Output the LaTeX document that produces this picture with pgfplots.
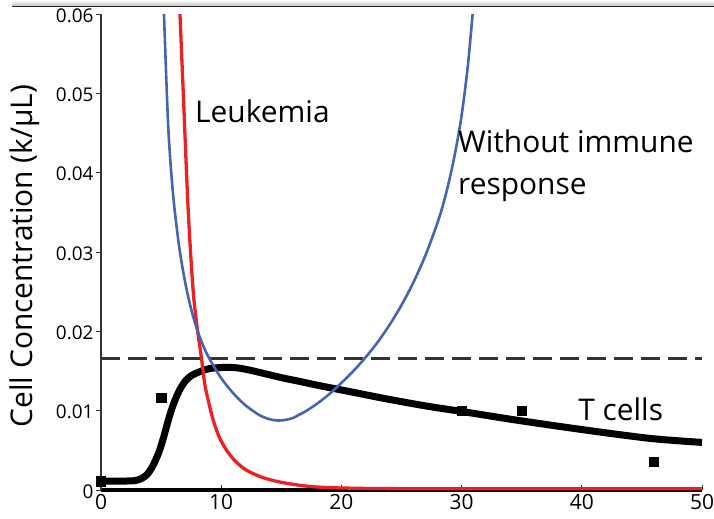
\documentclass[border=0pt]{standalone}
\usepackage{fontspec}
\setmainfont{Open Sans}
\usepackage{pgfplots}
\pgfplotsset{compat=1.18}
\definecolor{lred}{RGB}{237,33,36}
\definecolor{lblue}{RGB}{70,100,175}
\begin{document}
\begin{tikzpicture}
\shade[top color=white, bottom color=black!25] (-89bp,484bp) rectangle (613bp,490bp);
\draw[black!85, line width=1bp] (-89bp,483bp) -- (613bp,483bp);
\begin{axis}[
  scale only axis, width=601bp, height=476bp,
  at={(0,0)}, anchor=south west,
  xmin=0, xmax=50, ymin=0, ymax=0.06,
  axis x line*=bottom, axis y line*=left,
  clip=false,
  scaled y ticks=false, scaled x ticks=false,
  xtick={0,10,20,30,40,50},
  xticklabels={0,10,20,30,40,50},
  ytick={0,0.01,0.02,0.03,0.04,0.05,0.06},
  yticklabels={0,0.01,0.02,0.03,0.04,0.05,0.06},
  x axis line style={line width=3bp, black},
  y axis line style={line width=1.2bp, black!80},
  major tick length=4.5bp,
  tick style={black!80, line width=1bp},
  ytick style={xshift=-4.5bp},
  yticklabel style={font=\fontsize{19}{19}\selectfont, xshift=-4bp, yshift=-1.5bp},
  xticklabel style={font=\fontsize{21}{21}\selectfont, yshift=-1bp},
]
\addplot[black!80, line width=2.4bp, dash pattern=on 19bp off 8bp] coordinates {(0,0.0166) (50,0.0166)};
\addplot[black, line width=7bp, smooth] coordinates {
(0,0.00113) (1,0.00113) (2,0.00113) (2.8,0.00118) (3.3,0.0014) (3.8,0.0019) (4.3,0.0030) (4.8,0.0047) (5.2,0.0066) (5.6,0.0088) (6.0,0.0107) (6.5,0.0125) (7.0,0.0137) (7.5,0.0144) (8.2,0.0149) (9.0,0.0153) (10.2,0.01545) (11.3,0.0154) (12.4,0.0151) (13.8,0.0146) (15.2,0.0141) (16.5,0.0137) (17.9,0.01324) (20.7,0.0124) (23.5,0.01156) (27,0.0106) (30,0.0099) (34.6,0.0088) (40.1,0.0076) (45.7,0.0065) (50,0.0060)
};
\addplot[lred, line width=3.3bp, smooth] coordinates {
(6.57,0.060) (6.9,0.048) (7.2,0.037) (7.45,0.030) (7.7,0.0245) (8.0,0.0205) (8.35,0.0167) (8.65,0.0132) (9.0,0.0108) (9.3,0.0090) (9.8,0.0068) (10.45,0.0050) (11.2,0.0036) (12.1,0.0025) (13.4,0.0016) (14.9,0.0010) (17,0.0005) (19,0.0003) (22,0.0002) (26,0.00016) (32,0.00015) (40,0.00015) (50,0.00015)
};
\addplot[lblue, line width=2.6bp, smooth] coordinates {
(5.24,0.0600) (5.6,0.0456) (6.0,0.0372) (6.5,0.0307) (7.0,0.0262) (7.5,0.0228) (8.0,0.0202) (8.5,0.0182) (9.0,0.0166) (10.0,0.0141) (11.0,0.0122) (12.0,0.0107) (13.0,0.0096) (13.5,0.0092) (14.0,0.00893) (14.5,0.00878) (15.0,0.00877) (15.5,0.00888) (16.0,0.0091) (16.5,0.0095) (17.0,0.0099) (18.0,0.0109) (19.0,0.0121) (20.0,0.0135) (21.0,0.0150) (22.0,0.0167) (23.0,0.0186) (24.0,0.0208) (25.0,0.0233) (26.0,0.0262) (27.0,0.0296) (28.0,0.0337) (28.5,0.0362) (29.0,0.0392) (29.5,0.0428) (30.0,0.0472) (30.5,0.0532) (30.92,0.0600)
};
\addplot[only marks, mark=square*, mark size=4.7bp, black] coordinates {
(0,0.00113) (5,0.0116) (30,0.0100) (35,0.0100) (46,0.0036)
};
\node[anchor=base west, inner sep=0, font=\fontsize{30}{30}\selectfont] at (axis cs:7.82,0.0463) {Leukemia};
\node[anchor=base west, inner sep=0, font=\fontsize{30}{30}\selectfont] at (axis cs:29.7,0.0425) {Without immune};
\node[anchor=base west, inner sep=0, font=\fontsize{30}{30}\selectfont] at (axis cs:29.7,0.0372) {response};
\node[anchor=base west, inner sep=0, font=\fontsize{30}{30}\selectfont] at (axis cs:39.7,0.00874) {T cells};
\node[rotate=90, anchor=base, inner sep=0, font=\fontsize{30}{30}\selectfont] at ([xshift=-68bp]axis cs:0,0.0295) {Cell Concentration (k/µL)};
\end{axis}
\pgfresetboundingbox
\path (-101bp,-29bp) rectangle (613bp,490bp);
\end{tikzpicture}
\end{document}
